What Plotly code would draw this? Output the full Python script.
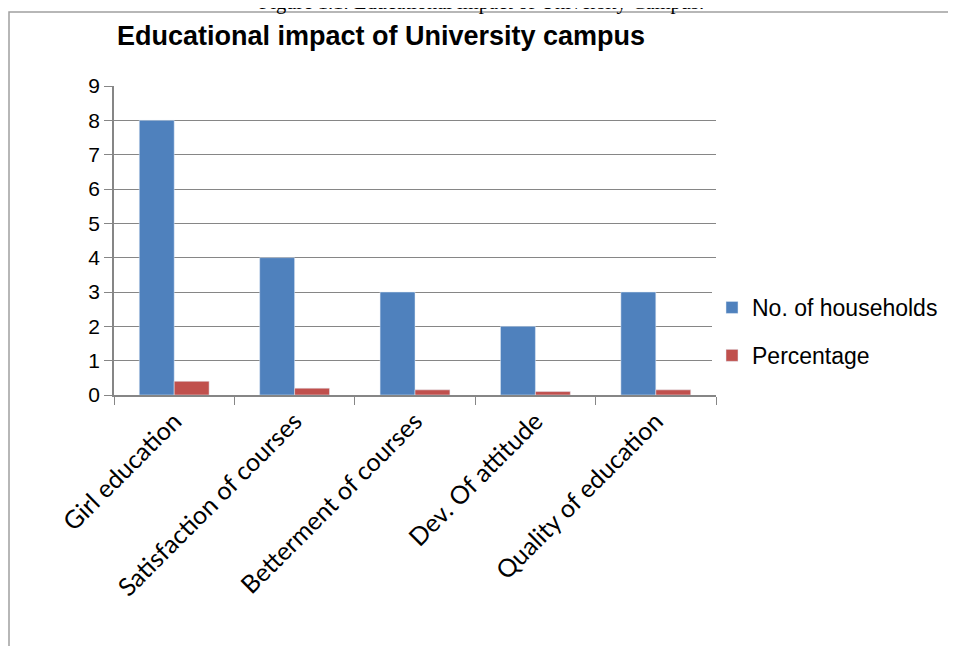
import plotly.graph_objects as go

categories = ["Girl education", "Satisfaction of courses", "Betterment of courses",
              "Dev. Of attitude", "Quality of education"]
households = [8, 4, 3, 2, 3]
percentage = [0.4, 0.2, 0.15, 0.1, 0.15]
y_ticks = [0, 1, 2, 3, 4, 5, 6, 7, 8, 9]

W, H = 956, 646
OFF = 8  # page body margin offset
L, R, T, B = 114 - OFF, 716 - OFF, 86 - OFF, 395 - OFF

def px(x):
    return (x - OFF - L) / (R - L)

def py(y):
    return (B - (y - OFF)) / (B - T)

fig = go.Figure()
fig.add_trace(go.Bar(x=categories, y=households, name="No. of households",
                     marker_color="#4F81BD", legendgroup="a"))
fig.add_trace(go.Bar(x=categories, y=percentage, name="Percentage",
                     marker_color="#C0504D", legendgroup="b"))

fig.update_layout(
    width=W, height=H,
    margin=dict(l=L, r=W - R, t=T, b=H - B),
    paper_bgcolor="white", plot_bgcolor="white",
    barmode="group", bargap=0.42, bargroupgap=0,
    title=dict(text="<b>Educational impact of University campus</b>",
               x=(381 - OFF) / W, xanchor="center", xref="container",
               y=1 - (36 - OFF) / H, yanchor="middle", yref="container",
               font=dict(family="Liberation Sans, Arial", size=27, color="black")),
    font=dict(family="Liberation Sans, Arial", color="black"),
    showlegend=True,
    legend=dict(x=px(712), y=py(286), xanchor="left", yanchor="top",
                font=dict(size=23, family="Liberation Sans, Arial"),
                traceorder="grouped", tracegroupgap=15, itemwidth=30),
    xaxis=dict(showline=True, linecolor="#868686", linewidth=1.5,
               ticks="outside", tickson="boundaries", ticklen=8, tickcolor="#868686",
               tickangle=-45, tickfont=dict(size=25, family="Lato, Open Sans"),
               showgrid=False),
    yaxis=dict(range=[0, 9], tickvals=y_ticks, showline=True, linecolor="#868686", linewidth=1.5,
               ticks="outside", ticklen=8, tickcolor="#868686",
               showgrid=True, gridcolor="#868686", gridwidth=1,
               tickfont=dict(size=21, family="Liberation Sans, Arial"), zeroline=False),
    shapes=[dict(type="rect", xref="paper", yref="paper",
                 x0=px(9), x1=px(970), y0=py(670), y1=py(12),
                 line=dict(color="#A0A0A0", width=1.5), layer="below")],
    annotations=[dict(text="Figure 1.1: Educational impact of University Campus.",
                      xref="paper", yref="paper", x=px(481), y=py(16),
                      xanchor="center", yanchor="bottom", showarrow=False,
                      font=dict(family="Liberation Serif, Times New Roman", size=20.5, color="black"))],
)

fig.write_html("out.html")
